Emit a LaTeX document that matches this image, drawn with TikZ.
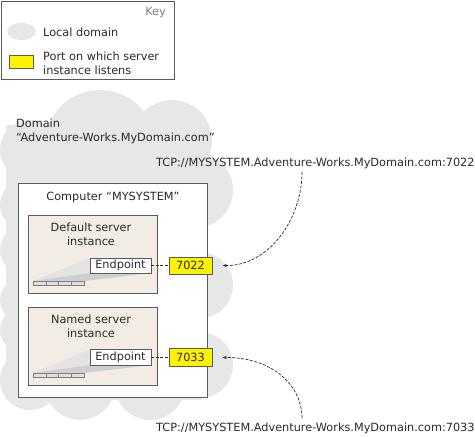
\documentclass[tikz,border=0pt]{standalone}
\usepackage{fontspec}
\setmainfont{DejaVu Sans}
\usetikzlibrary{arrows.meta,shapes.geometric}
\definecolor{cloudgray}{HTML}{E6E7E9}
\definecolor{boxline}{HTML}{5A5A5A}
\definecolor{beige}{HTML}{F2ECE5}
\definecolor{portyellow}{HTML}{FFF200}
\definecolor{txt}{HTML}{2A2A2A}
\tikzset{
  lbl/.style={inner sep=0pt, text=txt},
  compbox/.style={draw=boxline, line width=0.8pt, fill=white, inner sep=0pt},
  instbox/.style={draw=boxline, line width=0.8pt, fill=beige, inner sep=0pt, minimum width=129pt, minimum height=78pt},
  epbox/.style={draw=boxline, line width=0.6pt, fill=white, inner sep=0pt, minimum width=61pt, minimum height=15pt, text=txt},
  portbox/.style={draw=boxline, line width=0.8pt, fill=portyellow, inner sep=0pt, minimum width=43pt, minimum height=17pt, text=txt},
  dashline/.style={draw=txt, line width=0.7pt, dash pattern=on 3pt off 1.5pt},
  tcpconn/.style={draw=txt, line width=0.7pt, dash pattern=on 3pt off 1.5pt, -{Latex[open,length=4pt,width=3.5pt]}},
  barseg/.style={draw=gray, line width=0.5pt, fill=gray!25},
}
\begin{document}
\begin{tikzpicture}[x=1pt,y=-1pt, font=\fontsize{11.3}{14}\selectfont]
\useasboundingbox (0,0) rectangle (475,437);
% key
\node[draw=boxline, line width=1pt, fill=white, inner sep=0pt, minimum width=173pt, minimum height=78pt, anchor=north west] (key) at (0.5,0.5) {};
\node[lbl, anchor=east, text=gray] (keytitle) at (166,13) {Key};
\node[ellipse, fill=cloudgray, minimum width=29pt, minimum height=17pt, inner sep=0pt] (keycloud) at (21.5,31.5) {};
\node[lbl, anchor=west] (keycloudtxt) at (43,32) {Local domain};
\node[draw=boxline, line width=0.8pt, fill=portyellow, minimum width=24pt, minimum height=13pt, inner sep=0pt] (keyport) at (21,61.5) {};
\node[lbl, anchor=west, align=left] (keyporttxt) at (43,63) {Port on which server\\instance listens};
% cloud
\foreach \cx/\cy/\r in {30/150/30, 100/145/55, 172/140/40, 195/190/38, 200/285/33, 200/365/33, 150/385/35, 80/385/35, 30/380/30, 25/205/25, 25/250/25, 22/330/22, 22/300/22}{
  \fill[cloudgray] (\cx,\cy) circle (\r);
}
\fill[cloudgray] (6,125) rectangle (202,400);
\node[lbl, anchor=north west, align=left] (domain) at (16,119) {Domain\\``Adventure-Works.MyDomain.com''};
% computer
\node[compbox, minimum width=189pt, minimum height=214pt, anchor=north west] (comp) at (18,183) {};
\node[lbl] (comptxt) at (113,197) {Computer ``MYSYSTEM''};
% instances
\node[instbox, anchor=north west] (inst1) at (28,215) {};
\node[lbl, align=center] (inst1txt) at (91,234) {Default server\\instance};
\node[instbox, anchor=north west] (inst2) at (28,307) {};
\node[lbl, align=center] (inst2txt) at (91,326) {Named server\\instance};
% wedges and bars
\fill[gray!22] (33,281) -- (90,258) -- (90,273) -- cycle;
\fill[gray!38] (33,281) -- (90,273) -- (151,273) -- (84,281) -- cycle;
\fill[gray!22] (33,373) -- (90,349.5) -- (90,365) -- cycle;
\fill[gray!38] (33,373) -- (90,365) -- (151,365) -- (84,373) -- cycle;
\foreach \yy in {281,373}{
  \foreach \xx in {33,45.75,58.5,71.25}{
    \draw[barseg] (\xx,\yy) rectangle ++(12.75,4);
  }
}
% endpoints and ports
\node[epbox] (ep1) at (120.5,265.5) {Endpoint};
\node[portbox] (port1) at (190.5,265.5) {7022};
\node[epbox, minimum height=16pt] (ep2) at (120.5,357.5) {Endpoint};
\node[portbox, minimum height=18pt] (port2) at (190.5,357.5) {7033};
\draw[dashline] (ep1.east) -- (port1.west);
\draw[dashline] (ep2.east) -- (port2.west);
% tcp addresses
\node[lbl, anchor=west] (tcp1) at (156,163) {TCP://MYSYSTEM.Adventure-Works.MyDomain.com:7022};
\node[lbl, anchor=west] (tcp2) at (156,428) {TCP://MYSYSTEM.Adventure-Works.MyDomain.com:7033};
\coordinate (c1) at (302,172);
\coordinate (c2) at (302,418);
\draw[tcpconn] (c1) .. controls (302,220) and (268,266) .. ([xshift=10pt]port1.east);
\draw[tcpconn] (c2) .. controls (302,385) and (272,357.5) .. ([xshift=10pt]port2.east);
\end{tikzpicture}
\end{document}
